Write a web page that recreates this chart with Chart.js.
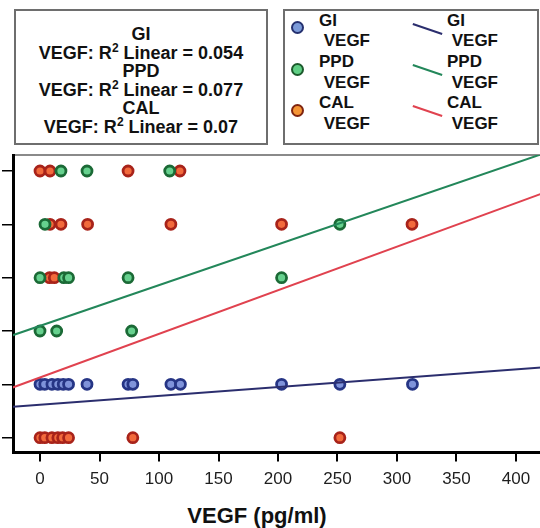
<!DOCTYPE html>
<html>
<head>
<meta charset="utf-8">
<script src="https://cdn.jsdelivr.net/npm/chart.js@4/dist/chart.umd.min.js"></script>
<style>
  body {
    margin: 0;
    width: 540px;
    height: 528px;
    overflow: hidden;
    position: relative;
    background: #fff;
    font-family: "Liberation Sans", Arial, sans-serif;
    color: #111;
  }
  .box {
    position: absolute;
    border: 2px solid #6e6e6e;
    box-sizing: border-box;
    background: #fff;
  }
  #r2-box {
    left: 14px;
    top: 9px;
    width: 254px;
    height: 136px;
    text-align: center;
    font-weight: bold;
    font-size: 18px;
    line-height: 18.5px;
    padding-top: 14px;
  }
  #r2-box sup {
    font-size: 12px;
    line-height: 0;
    vertical-align: 7px;
  }
  #legend-box {
    left: 283px;
    top: 9px;
    width: 256px;
    height: 136px;
  }
  .dot {
    position: absolute;
    width: 13px;
    height: 13px;
    border-radius: 50%;
    border: 2.5px solid;
    box-sizing: border-box;
  }
  .swatch {
    position: absolute;
    width: 31px;
    height: 2px;
    transform: rotate(19deg);
  }
  .lbl {
    position: absolute;
    font-weight: bold;
    font-size: 17px;
    line-height: 20.5px;
    white-space: pre;
  }
  #chart-wrap {
    position: absolute;
    left: 0;
    top: 142px;
  }
  #x-title {
    position: absolute;
    left: 0;
    width: 514px;
    top: 503px;
    text-align: center;
    font-weight: bold;
    font-size: 22px;
  }
</style>
</head>
<body>
<div id="r2-box" class="box"></div>
<div id="legend-box" class="box"></div>
<div id="chart-wrap"><canvas id="scatter-canvas" width="600" height="357"></canvas></div>
<div id="x-title">VEGF (pg/ml)</div>
<script>
// series names and r-squared values from the fit box
const seriesNames = ["GI", "PPD", "CAL"];
const rSquared = ["0.054", "0.077", "0.07"];

// [VEGF, score] pairs
const giPoints = [
  [0, 1], [4, 1], [10, 1], [15, 1], [19.5, 1], [24, 1], [39.5, 1],
  [74, 1], [78, 1], [110, 1], [118, 1], [203, 1], [252, 1], [313, 1],
];
const ppdPoints = [
  [17.6, 5], [39.5, 5], [109, 5],
  [4.2, 4], [252, 4],
  [0, 3], [20, 3], [24, 3], [74, 3], [203, 3],
  [0, 2], [14, 2], [77, 2],
];
const calPoints = [
  [0, 5], [8.4, 5], [74, 5], [117.6, 5],
  [8.4, 4], [17.6, 4], [40, 4], [110, 4], [203, 4], [312.6, 4],
  [8, 3], [12, 3],
  [0, 0], [4, 0], [10, 0], [15, 0], [19, 0], [24, 0], [78, 0], [252, 0],
];

// fit line end points (VEGF, score)
const giFit = [[-23, 0.577], [460, 1.38]];
const ppdFit = [[-23, 1.921], [460, 5.61]];
const calFit = [[-23, 0.94], [460, 4.89]];

const xTicks = [0, 50, 100, 150, 200, 250, 300, 350, 400];

const dotFill = ["#7f93da", "#66d18e", "#f26a3c"];
const dotEdge = ["#263585", "#1b6a36", "#a8231a"];
const legendFill = ["#7b9ad8", "#5fcf84", "#f59535"];
const legendEdge = ["#24306f", "#1c5a2c", "#7f2410"];
const fitColor = ["#2b2e6e", "#23875a", "#e0424f"];

const toXY = (pairs) => pairs.map(([x, y]) => ({ x: x, y: y }));

const buildR2Box = () => {
  const box = document.getElementById("r2-box");
  box.innerHTML = seriesNames
    .map(
      (name, i) =>
        `<div>${name}</div><div>VEGF: R<sup>2</sup> Linear = ${rSquared[i]}</div>`
    )
    .join("");
};

const buildLegend = () => {
  const box = document.body;
  const rowTop = [10.5, 52, 93];
  seriesNames.forEach((name, i) => {
    const dot = document.createElement("div");
    dot.className = "dot";
    dot.style.left = "290.5px";
    dot.style.top = rowTop[i] + 10.5 + "px";
    dot.style.background = legendFill[i];
    dot.style.borderColor = legendEdge[i];
    box.appendChild(dot);

    const sw = document.createElement("div");
    sw.className = "swatch";
    sw.style.left = "412px";
    sw.style.top = rowTop[i] + 17 + "px";
    sw.style.background = fitColor[i];
    box.appendChild(sw);

    const l1 = document.createElement("div");
    l1.className = "lbl";
    l1.style.left = "319px";
    l1.style.top = rowTop[i] + "px";
    l1.textContent = name + "\n VEGF";
    box.appendChild(l1);

    const l2 = document.createElement("div");
    l2.className = "lbl";
    l2.style.left = "447px";
    l2.style.top = rowTop[i] + "px";
    l2.textContent = name + "\n VEGF";
    box.appendChild(l2);
  });
};

const scatterSet = (label, pts, i) => ({
  type: "scatter",
  label: label,
  data: toXY(pts),
  pointRadius: 5,
  pointHoverRadius: 5,
  borderWidth: 2.8,
  backgroundColor: dotFill[i],
  borderColor: dotEdge[i],
  order: 2,
});

const fitSet = (label, pts, i) => ({
  type: "line",
  label: label,
  data: toXY(pts),
  showLine: true,
  pointRadius: 0,
  borderWidth: 2,
  borderColor: fitColor[i],
  backgroundColor: fitColor[i],
  fill: false,
  order: 1,
});

const generateScatter = () => {
  new Chart(document.getElementById("scatter-canvas"), {
    type: "scatter",
    data: {
      datasets: [
        fitSet("GI fit", giFit, 0),
        fitSet("PPD fit", ppdFit, 1),
        fitSet("CAL fit", calFit, 2),
        scatterSet("GI", giPoints, 0),
        scatterSet("PPD", ppdPoints, 1),
        scatterSet("CAL", calPoints, 2),
      ],
    },
    options: {
      responsive: false,
      animation: false,
      devicePixelRatio: 1,
      layout: {
        padding: { left: 2, top: 5, right: 15, bottom: 1 },
      },
      plugins: {
        legend: { display: false },
        tooltip: { enabled: false },
      },
      scales: {
        x: {
          type: "linear",
          position: "bottom",
          min: -22.7,
          max: 458,
          afterBuildTicks: (axis) => {
            axis.ticks = xTicks.map((v) => ({ value: v }));
          },
          border: { display: true, color: "#000", width: 3 },
          grid: {
            display: true,
            drawOnChartArea: false,
            drawTicks: true,
            tickLength: 9,
            color: "#000",
            lineWidth: 2,
          },
          ticks: {
            padding: 8,
            color: "#1e1e1e",
            font: { family: "'Liberation Sans', Arial", size: 17 },
          },
        },
        xTop: {
          type: "linear",
          position: "top",
          min: -22.7,
          max: 458,
          border: { display: true, color: "#8a8a8a", width: 2 },
          grid: { display: false },
          ticks: { display: false },
        },
        y: {
          type: "linear",
          min: -0.28,
          max: 5.3,
          ticks: { display: false, stepSize: 1, includeBounds: false },
          border: { display: true, color: "#000", width: 3 },
          grid: {
            display: true,
            drawOnChartArea: false,
            drawTicks: true,
            tickLength: 11,
            color: "#000",
            lineWidth: 1.5,
          },
        },
      },
    },
  });
};

buildR2Box();
buildLegend();
generateScatter();
</script>
</body>
</html>
